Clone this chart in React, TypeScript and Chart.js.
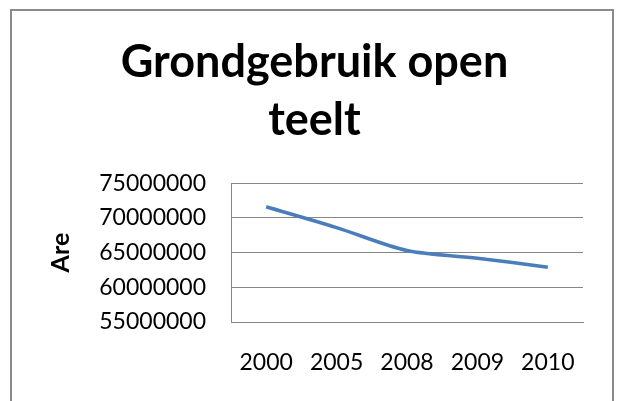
import React, { useEffect, useRef } from "react";
import { Chart, registerables } from "chart.js";

Chart.register(...registerables);

const titleLines = ["Grondgebruik open", "teelt"];
const yAxisTitle = "Are";
const categories = ["2000", "2005", "2008", "2009", "2010"];
const values = [71600000, 68600000, 65300000, 64200000, 62900000];
const yTicks = [55000000, 60000000, 65000000, 70000000, 75000000];

const FONT = "Lato, 'Open Sans', sans-serif";

export default function App() {
  const ref = useRef<HTMLCanvasElement | null>(null);

  useEffect(() => {
    document.body.style.margin = "0";
    const canvas = ref.current;
    if (!canvas) return;
    const chart = new Chart(canvas, {
      type: "line",
      data: {
        labels: categories,
        datasets: [
          {
            data: values,
            borderColor: "#4a7ebb",
            borderWidth: 3.5,
            pointRadius: 0,
            tension: 0.3,
            fill: false,
          },
        ],
      },
      options: {
        animation: false,
        responsive: false,
        maintainAspectRatio: false,
        layout: { padding: { left: 46, right: 37, top: 0, bottom: 0 } },
        plugins: {
          legend: { display: false },
          tooltip: { enabled: false },
          title: {
            display: true,
            text: titleLines,
            color: "#000",
            font: { family: FONT, size: 45, weight: "bold", lineHeight: 1.28 },
            padding: { top: 34, bottom: 34 },
          },
        },
        scales: {
          x: {
            offset: true,
            grid: { display: false, drawTicks: false },
            border: { display: true, color: "#868686", width: 1 },
            ticks: {
              color: "#000",
              font: { family: FONT, size: 23 },
              padding: 27,
              maxRotation: 0,
            },
            afterFit: (scale: any) => {
              scale.height = 79;
            },
          },
          y: {
            min: yTicks[0],
            max: yTicks[yTicks.length - 1],
            afterBuildTicks: (scale: any) => {
              scale.ticks = yTicks.map((v) => ({ value: v }));
            },
            grid: { color: "#868686", drawTicks: false, lineWidth: 1 },
            border: { display: true, color: "#868686", width: 1 },
            ticks: {
              color: "#000",
              font: { family: FONT, size: 23 },
              padding: 25,
              callback: (v: any) => String(v),
            },
            title: {
              display: true,
              text: yAxisTitle,
              color: "#000",
              font: { family: FONT, size: 25, weight: "bold" },
              padding: { top: 0, bottom: 4 },
            },
            afterFit: (scale: any) => {
              scale.width = 231 - 46;
            },
          },
        },
      },
    });
    return () => chart.destroy();
  }, []);

  return (
    <div style={{ position: "relative", width: 620, height: 401, overflow: "hidden", background: "#fff" }}>
      <canvas ref={ref} width={620} height={401} style={{ position: "absolute", left: 0, top: 0 }} />
      <div
        style={{
          position: "absolute",
          left: 10,
          top: 9,
          width: 600,
          height: 420,
          border: "2px solid #8a8a8a",
          pointerEvents: "none",
        }}
      />
    </div>
  );
}
